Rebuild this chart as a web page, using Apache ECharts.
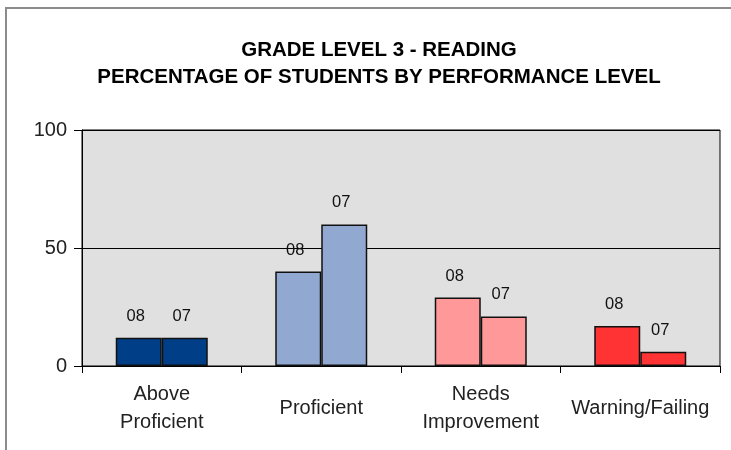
<!DOCTYPE html>
<html>
<head>
<meta charset="utf-8">
<script src="https://cdn.jsdelivr.net/npm/echarts@6/dist/echarts.min.js"></script>
<style>html,body{margin:0;padding:0;background:#fff}#c{width:731px;height:450px}</style>
</head>
<body>
<div id="c"></div>
<script>
const titleLines = ['GRADE LEVEL 3 - READING', 'PERCENTAGE OF STUDENTS BY PERFORMANCE LEVEL'];
const categories = ['Above\nProficient', 'Proficient', 'Needs\nImprovement', 'Warning/Failing'];
const seriesNames = ['08', '07'];
const values08 = [12, 40, 29, 17];
const values07 = [12, 60, 21, 6];
const categoryColors = ['#003f87', '#91a8d0', '#ff9999', '#ff3333'];
const yTicks = [0, 50, 100];

const chart = echarts.init(document.getElementById('c'));
const FONT = '"Liberation Sans", Arial, sans-serif';

function makeSeries(name, vals) {
  return {
    name: name,
    type: 'bar',
    barWidth: 46,
    barGap: '0%',
    data: vals.map((v, i) => ({ value: v, itemStyle: { color: categoryColors[i] } })),
    itemStyle: { borderColor: '#111', borderWidth: 1.5 },
    label: {
      show: true, position: 'top', distance: 13, offset: [-3, 0],
      formatter: '{a}', color: '#111', fontFamily: FONT, fontSize: 16.5
    },
    emphasis: { disabled: true },
    animation: false
  };
}

chart.setOption({
  animation: false,
  backgroundColor: '#fff',
  title: {
    text: titleLines.join('\n'),
    left: 374, top: 32, textAlign: 'center',
    textStyle: { fontFamily: FONT, fontWeight: 'bold', fontSize: 20.5, lineHeight: 27, color: '#000' }
  },
  graphic: [{
    type: 'polyline', shape: { points: [[6, 460], [6, 8], [740, 8]] },
    style: { fill: 'none', stroke: '#8c8c8c', lineWidth: 2 }, silent: true
  }],
  grid: {
    left: 82, right: 11, top: 130, bottom: 84,
    show: true, backgroundColor: '#e0e0e0', borderColor: '#000', borderWidth: 1
  },
  xAxis: {
    type: 'category', data: categories,
    axisLine: { lineStyle: { color: '#000', width: 1 } },
    axisTick: { show: true, length: 7, lineStyle: { color: '#000' } },
    axisLabel: {
      interval: 0, margin: 42, verticalAlign: 'middle',
      fontFamily: FONT, fontSize: 20, lineHeight: 28, color: '#222'
    }
  },
  yAxis: {
    type: 'value', min: yTicks[0], max: yTicks[yTicks.length - 1], interval: yTicks[1] - yTicks[0],
    axisLine: { show: true, lineStyle: { color: '#000', width: 1 } },
    axisTick: { show: true, length: 8, lineStyle: { color: '#000' } },
    splitLine: { show: true, lineStyle: { color: '#000', width: 1 } },
    axisLabel: { margin: 15, fontFamily: FONT, fontSize: 20, color: '#222' }
  },
  series: [makeSeries(seriesNames[0], values08), makeSeries(seriesNames[1], values07)]
});
</script>
</body>
</html>
